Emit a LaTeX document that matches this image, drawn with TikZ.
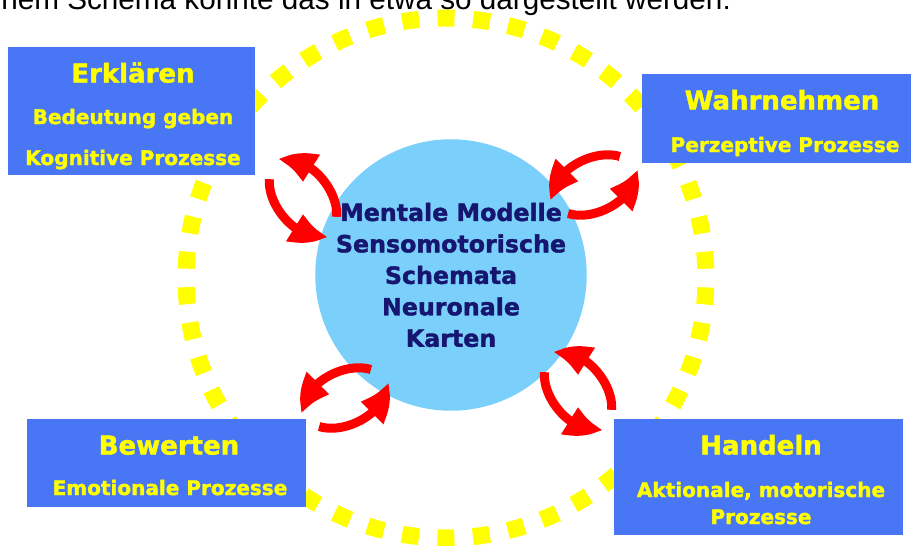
\documentclass[tikz,border=0pt]{standalone}
\usepackage{fontspec}
\setmainfont[BoldFeatures={FakeBold=1.6}]{DejaVu Sans}
\newfontfamily\kopffont{Liberation Sans}
\usetikzlibrary{arrows.meta,bending}

\definecolor{boxblau}{RGB}{72,118,245}
\definecolor{kreisblau}{RGB}{122,208,250}
\definecolor{textgelb}{RGB}{255,255,0}
\definecolor{marine}{RGB}{22,22,112}
\definecolor{pfeilrot}{RGB}{255,0,0}

\begin{document}
\begin{tikzpicture}[
    x=0.02cm, y=-0.02cm,
    box/.style={rectangle, fill=boxblau, inner sep=0pt},
    titel/.style={anchor=base, text=textgelb, font=\bfseries\fontsize{14.8}{18}\selectfont, inner sep=0pt},
    untertitel/.style={anchor=base, text=textgelb, font=\bfseries\fontsize{11.4}{14}\selectfont, inner sep=0pt},
    ring/.style={draw=textgelb, line width=0.34cm, dash pattern=on 0.34cm off 0.3703cm, dash phase=0.525cm},
    kreislauf/.style={draw=pfeilrot, line width=0.18cm, -{Triangle[length=0.62cm, width=0.62cm, bend]}}
]
\useasboundingbox (0,0) rectangle (911,545);

% Einleitung (oben abgeschnitten)
\node[anchor=base west, inner sep=0pt, font=\kopffont\fontsize{16.9}{20}\selectfont] (einleitung) at (1,9) {nem Schema könnte das in etwa so dargestellt werden:};

% gestrichelter Ring
\coordinate (mitte) at (446,278);
\draw[ring] (mitte) circle[radius=5.2cm];

% Kästen
\node[box, minimum width=4.94cm, minimum height=2.56cm] (erklaeren) at (131.5,111) {};
\node[box, minimum width=5.64cm, minimum height=1.78cm] (wahrnehmen) at (783,118.5) {};
\node[box, minimum width=5.58cm, minimum height=1.76cm] (bewerten) at (166.5,463) {};
\node[box, minimum width=5.78cm, minimum height=2.32cm] (handeln) at (758.5,477) {};

% Texte in den Kästen
\node[titel] (erklaerentitel) at (133,82.5) {Erklären};
\node[untertitel] (bedeutung) at (133,124) {Bedeutung geben};
\node[untertitel] (kognitiv) at (133,165) {Kognitive Prozesse};

\node[titel] (wahrnehmentitel) at (782,109.5) {Wahrnehmen};
\node[untertitel] (perzeptiv) at (785,152) {Perzeptive Prozesse};

\node[titel] (bewertentitel) at (169,454.5) {Bewerten};
\node[untertitel] (emotional) at (170,495) {Emotionale Prozesse};

\node[titel] (handelntitel) at (761,454.5) {Handeln};
\node[untertitel] (aktional) at (761,497) {Aktionale, motorische};
\node[untertitel] (prozesse) at (761,524) {Prozesse};

% Kreis in der Mitte
\node[circle, fill=kreisblau, minimum size=5.32cm, inner sep=0pt, align=center, text=marine,
      font=\bfseries\fontsize{13.5}{17.9}\selectfont] (modelle) at (451,275)
      {Mentale Modelle\\Sensomotorische\\Schemata\\Neuronale\\Karten};

% Wechselpfeile
\coordinate (k1) at (303,198);
\coordinate (k2) at (594,185);
\coordinate (k3) at (345,398);
\coordinate (k4) at (578,391);

\begin{scope}[shift={(k1)}, rotate=-53]
\draw[kreislauf] (35:0.86cm and 0.54cm) arc[start angle=35, end angle=175, x radius=0.86cm, y radius=0.54cm];
\draw[kreislauf] (215:0.86cm and 0.54cm) arc[start angle=215, end angle=355, x radius=0.86cm, y radius=0.54cm];
\end{scope}

\begin{scope}[shift={(k2)}, rotate=24]
\draw[kreislauf] (35:0.86cm and 0.54cm) arc[start angle=35, end angle=175, x radius=0.86cm, y radius=0.54cm];
\draw[kreislauf] (215:0.86cm and 0.54cm) arc[start angle=215, end angle=355, x radius=0.86cm, y radius=0.54cm];
\end{scope}

\begin{scope}[shift={(k3)}, rotate=24]
\draw[kreislauf] (35:0.86cm and 0.54cm) arc[start angle=35, end angle=175, x radius=0.86cm, y radius=0.54cm];
\draw[kreislauf] (215:0.86cm and 0.54cm) arc[start angle=215, end angle=355, x radius=0.86cm, y radius=0.54cm];
\end{scope}

\begin{scope}[shift={(k4)}, rotate=-53]
\draw[kreislauf] (35:0.86cm and 0.54cm) arc[start angle=35, end angle=175, x radius=0.86cm, y radius=0.54cm];
\draw[kreislauf] (215:0.86cm and 0.54cm) arc[start angle=215, end angle=355, x radius=0.86cm, y radius=0.54cm];
\end{scope}

\end{tikzpicture}
\end{document}
